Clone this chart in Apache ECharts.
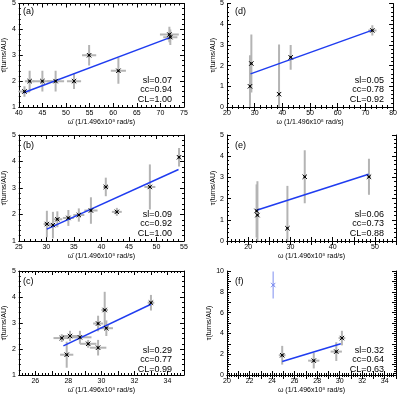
<!DOCTYPE html>
<html><head><meta charset="utf-8">
<script src="https://cdn.jsdelivr.net/npm/echarts@6/dist/echarts.min.js"></script>
<style>html,body{margin:0;padding:0;background:#fff}#c{width:400px;height:395px}</style>
</head><body><div id="c"></div>
<script>
// ---- Panel (a) ----
const aX    = [41.2, 42.3, 45.0, 47.8, 51.7, 54.9, 61.1, 71.9, 72.1];
const aY    = [1.6, 2.0, 2.0, 2.0, 2.0, 3.0, 2.4, 3.8, 3.7];
const aXErr = [1.2, 1.0, 2.0, 1.8, 1.5, 1.5, 1.6, 2.0, 1.5];
const aYErr = [0.2, 0.4, 0.4, 0.4, 0.3, 0.4, 0.5, 0.3, 0.3];
const aFitX = [41.0, 72.0];
const aFitY = [1.55, 3.68];
const aStats = ['sl=0.07', 'cc=0.94', 'CL=1.00'];
// ---- Panel (b) ----
const bX    = [30.1, 31.2, 32.0, 34.0, 35.9, 38.1, 40.8, 42.8, 48.8, 54.1];
const bY    = [1.64, 1.6, 1.82, 1.87, 1.98, 2.15, 3.04, 2.1, 3.04, 4.16];
const bXErr = [0.6, 0.7, 0.9, 1.0, 1.0, 1.2, 0.5, 0.9, 1.0, 0.3];
const bYErr = [0.5, 0.5, 0.3, 0.3, 0.25, 0.5, 0.35, 0.15, 0.85, 0.35];
const bFitX = [30.1, 54.0];
const bFitY = [1.45, 3.7];
const bStats = ['sl=0.09', 'cc=0.92', 'CL=1.00'];
// ---- Panel (c) ----
const cX    = [27.6, 27.9, 28.1, 28.7, 29.2, 29.8, 29.8, 30.2, 30.3, 33.0];
const cY    = [2.42, 1.78, 2.5, 2.45, 2.2, 2.98, 2.05, 3.5, 2.8, 3.78];
const cXErr = [0.5, 0.4, 0.5, 0.7, 0.5, 0.3, 0.5, 0.2, 0.4, 0.2];
const cYErr = [0.15, 0.5, 0.2, 0.25, 0.15, 0.3, 0.3, 0.7, 0.3, 0.3];
const cFitX = [27.7, 33.0];
const cFitY = [2.12, 3.72];
const cStats = ['sl=0.29', 'cc=0.77', 'CL=0.99'];
// ---- Panel (d) ----
const dX    = [28.3, 28.8, 38.8, 43.0, 72.5];
const dY    = [1.0, 2.1, 0.62, 2.4, 3.7];
const dXErr = [0.3, 0.3, 0.3, 0.6, 1.5];
const dYErr = [1.5, 1.4, 2.4, 0.6, 0.25];
const dFitX = [28.5, 72.3];
const dFitY = [1.6, 3.7];
const dStats = ['sl=0.05', 'cc=0.78', 'CL=0.92'];
// ---- Panel (e) ----
const eX    = [22.0, 22.2, 29.3, 33.4, 48.6];
const eY    = [1.42, 1.22, 0.6, 3.03, 3.03];
const eXErr = [0.2, 0.3, 0.3, 0.3, 0.5];
const eYErr = [1.25, 1.6, 2.0, 1.25, 0.85];
const eFitX = [22.0, 48.5];
const eFitY = [1.45, 3.15];
const eStats = ['sl=0.06', 'cc=0.73', 'CL=0.88'];
// ---- Panel (f) ----
const fX    = [24.9, 27.7, 29.7, 30.2];
const fY    = [1.9, 1.38, 2.25, 3.55];
const fXErr = [0.3, 0.5, 0.5, 0.3];
const fYErr = [0.9, 0.75, 0.9, 0.7];
const fOutX = [24.1];
const fOutY = [8.65];
const fOutXErr = [0.1];
const fOutYErr = [1.3];
const fFitX = [24.9, 30.1];
const fFitY = [1.3, 3.0];
const fStats = ['sl=0.32', 'cc=0.64', 'CL=0.63'];

const xNameBar = '\u03c9\u0304 (1/1.496x10\u2078 rad/s)';
const xNamePlain = '\u03c9 (1/1.496x10\u2078 rad/s)';
const yNameBar = '\u03c4\u0304(turns/AU)';
const yNamePlain = '\u03c4(turns/AU)';

const FONT = 'Liberation Sans';
const panels = [
  {lab:'(a)', X:aX,Y:aY,XE:aXErr,YE:aYErr,FX:aFitX,FY:aFitY,S:aStats, xr:[40,75,5], yr:[1,5,1], xn:xNameBar, yn:yNameBar, l:15,t:1},
  {lab:'(b)', X:bX,Y:bY,XE:bXErr,YE:bYErr,FX:bFitX,FY:bFitY,S:bStats, xr:[25,55,5], yr:[1,5,1], xn:xNameBar, yn:yNameBar, l:15,t:135},
  {lab:'(c)', X:cX,Y:cY,XE:cXErr,YE:cYErr,FX:cFitX,FY:cFitY,S:cStats, xr:[25,35,1], yr:[1,5,1], xn:xNameBar, yn:yNameBar, l:15,t:271, xlabEven:true},
  {lab:'(d)', X:dX,Y:dY,XE:dXErr,YE:dYErr,FX:dFitX,FY:dFitY,S:dStats, xr:[20,80,10], yr:[0,5,1], xn:xNamePlain, yn:yNamePlain, l:227,t:1},
  {lab:'(e)', X:eX,Y:eY,XE:eXErr,YE:eYErr,FX:eFitX,FY:eFitY,S:eStats, xr:[15,55,5], yr:[0,5,1], xn:xNamePlain, yn:yNamePlain, l:227,t:135, xlabTens:true},
  {lab:'(f)', X:fX,Y:fY,XE:fXErr,YE:fYErr,FX:fFitX,FY:fFitY,S:fStats, xr:[20,35,1], yr:[0,10,1], xn:xNamePlain, yn:yNamePlain, l:227,t:271, xlabEven:true, ylabEven:true,
   OX:fOutX, OY:fOutY, OXE:fOutXErr, OYE:fOutYErr}
];
const W = 169, H = 106;

const grid=[], xAxis=[], yAxis=[], series=[], graphic=[];
function errRender(color, width){
  return function(params, api){
    const x=api.value(0), y=api.value(1), xe=api.value(2), ye=api.value(3);
    const l=api.coord([x-xe,y]), r=api.coord([x+xe,y]);
    const t=api.coord([x,y+ye]), b=api.coord([x,y-ye]);
    const cs=params.coordSys;
    const clamp=(v,a,bb)=>Math.max(a,Math.min(bb,v));
    const y0=cs.y, y1=cs.y+cs.height, x0=cs.x, x1=cs.x+cs.width;
    return {type:'group', children:[
      {type:'line', shape:{x1:clamp(l[0],x0,x1),y1:l[1],x2:clamp(r[0],x0,x1),y2:r[1]}, style:{stroke:color,lineWidth:width}},
      {type:'line', shape:{x1:t[0],y1:clamp(t[1],y0,y1),x2:b[0],y2:clamp(b[1],y0,y1)}, style:{stroke:color,lineWidth:width}}
    ]};
  };
}
function markRender(color){
  return function(params, api){
    const c=api.coord([api.value(0),api.value(1)]);
    const s=2.2;
    return {type:'group', children:[
      {type:'line', shape:{x1:c[0]-s,y1:c[1]-s,x2:c[0]+s,y2:c[1]+s}, style:{stroke:color,lineWidth:1}},
      {type:'line', shape:{x1:c[0]-s,y1:c[1]+s,x2:c[0]+s,y2:c[1]-s}, style:{stroke:color,lineWidth:1}},
      {type:'rect', shape:{x:c[0]-1,y:c[1]-1,width:2,height:2}, style:{fill:color}}
    ]};
  };
}
panels.forEach((p,i)=>{
  grid.push({left:p.l, top:p.t, width:W, height:H, show:false});
  const axLine={show:true, lineStyle:{color:'#000', width:1}};
  const xlabFmt = p.xlabEven ? (v=>(v%2===0?String(v):'')) : (p.xlabTens ? (v=>(v%10===0?String(v):'')) : (v=>String(v)));
  const ylabFmt = p.ylabEven ? (v=>(v%2===0?String(v):'')) : (v=>String(v));
  const xInt = p.xlabTens ? 5 : p.xr[2];
  xAxis.push({gridIndex:i, type:'value', min:p.xr[0], max:p.xr[1], interval:xInt, position:'bottom',
    axisLine:axLine, axisTick:{show:true, inside:true, length:4, lineStyle:{color:'#000'}},
    minorTick:{show:true, splitNumber:5, length:2, lineStyle:{color:'#000'}},
    splitLine:{show:false},
    axisLabel:{show:true, fontSize:7, color:'#000', fontFamily:FONT, margin:3, formatter:xlabFmt, showMinLabel:true, showMaxLabel:true},
    name:p.xn, nameLocation:'middle', nameGap:12, nameTextStyle:{fontSize:7, color:'#000', fontFamily:FONT}});
  xAxis.push({gridIndex:i, type:'value', min:p.xr[0], max:p.xr[1], interval:xInt, position:'top',
    axisLine:axLine, axisTick:{show:true, inside:true, length:4, lineStyle:{color:'#000'}},
    minorTick:{show:true, splitNumber:5, length:2, lineStyle:{color:'#000'}},
    splitLine:{show:false}, axisLabel:{show:false}});
  yAxis.push({gridIndex:i, type:'value', min:p.yr[0], max:p.yr[1], interval:p.yr[2], position:'left',
    axisLine:axLine, axisTick:{show:true, inside:true, length:4, lineStyle:{color:'#000'}},
    minorTick:{show:true, splitNumber:5, length:2, lineStyle:{color:'#000'}},
    splitLine:{show:false},
    axisLabel:{show:true, fontSize:7, color:'#000', fontFamily:FONT, margin:3, formatter:ylabFmt, showMinLabel:true, showMaxLabel:true},
    name:p.yn, nameLocation:'middle', nameGap:9, nameRotate:90, nameTextStyle:{fontSize:7, color:'#000', fontFamily:FONT}});
  yAxis.push({gridIndex:i, type:'value', min:p.yr[0], max:p.yr[1], interval:p.yr[2], position:'right',
    axisLine:axLine, axisTick:{show:true, inside:true, length:4, lineStyle:{color:'#000'}},
    minorTick:{show:true, splitNumber:5, length:2, lineStyle:{color:'#000'}},
    splitLine:{show:false}, axisLabel:{show:false}});
  const xi=2*i, yi=2*i;
  const data=p.X.map((x,k)=>[x,p.Y[k],p.XE[k],p.YE[k]]);
  if(p.OX){
    const od=p.OX.map((x,k)=>[x,p.OY[k],p.OXE[k],p.OYE[k]]);
    series.push({type:'custom', xAxisIndex:xi, yAxisIndex:yi, renderItem:errRender('#a9b4f5',1.5), data:od, clip:true, z:2, silent:true});
    series.push({type:'custom', xAxisIndex:xi, yAxisIndex:yi, renderItem:markRender('#7f8ff0'), data:od, clip:true, z:4, silent:true});
  }
  series.push({type:'custom', xAxisIndex:xi, yAxisIndex:yi, renderItem:errRender('#b4b4b4',2), data:data, clip:true, z:2, silent:true});
  series.push({type:'line', xAxisIndex:xi, yAxisIndex:yi, data:p.FX.map((x,k)=>[x,p.FY[k]]), symbol:'none',
    lineStyle:{color:'#1f3cf0', width:1.5}, z:3, silent:true, animation:false});
  series.push({type:'custom', xAxisIndex:xi, yAxisIndex:yi, renderItem:markRender('#000'), data:data, clip:true, z:4, silent:true});
  graphic.push({type:'text', left:p.l+8, top:p.t+6, style:{text:p.lab, fontSize:9, fill:'#000', fontFamily:FONT}});
  p.S.forEach((s,k)=>{
    graphic.push({type:'text', right:400-(p.l+W-12), top:p.t+H-31+k*9.5, style:{text:s, fontSize:9, fill:'#000', fontFamily:FONT}});
  });
});
const chart=echarts.init(document.getElementById('c'), null, {renderer:'canvas'});
chart.setOption({animation:false, backgroundColor:'#fff', grid, xAxis, yAxis, series, graphic});
</script></body></html>
